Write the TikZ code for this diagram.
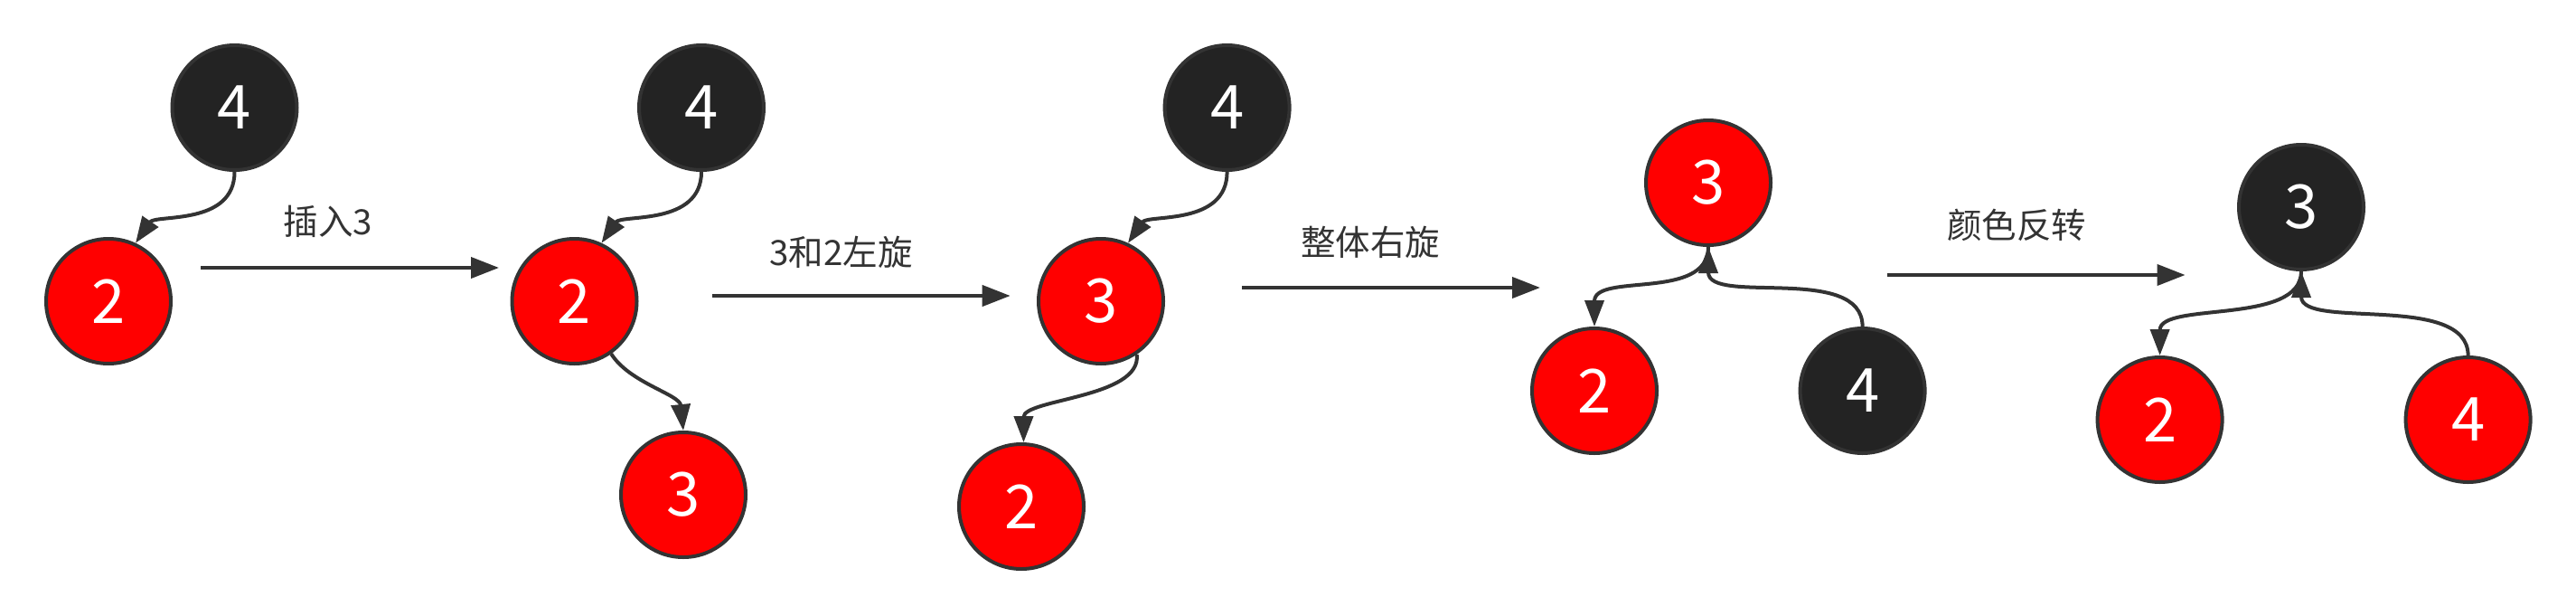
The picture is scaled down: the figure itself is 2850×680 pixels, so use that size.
\documentclass[tikz,border=0pt]{standalone}
\usepackage{fontspec}
\setmainfont{Noto Sans CJK SC}
\usetikzlibrary{arrows.meta}
\definecolor{rbred}{HTML}{FF0000}
\definecolor{rbblack}{HTML}{232323}
\definecolor{linec}{HTML}{333333}
\tikzset{
  rb/.style={circle, minimum size=138pt, inner sep=0pt, draw=linec, line width=4pt, text=white, font=\fontsize{67}{67}\selectfont},
  rnode/.style={rb, fill=rbred},
  bnode/.style={rb, fill=rbblack},
  edge/.style={draw=linec, line width=4pt, -{Triangle[length=29pt,width=21pt]}},
  flow/.style={draw=linec, line width=4pt, -{Triangle[length=31pt,width=23pt]}},
  lab/.style={text=linec, font=\fontsize{38.5}{38.5}\selectfont, inner sep=0pt},
}
\begin{document}
\begin{tikzpicture}[x=1pt,y=-1pt]
\useasboundingbox (0,0) rectangle (2850,680);
% stage 1
\node[bnode] (n4a) at (259.5,119) {4};
\node[rnode] (n2a) at (120,333) {2};
% stage 2
\node[bnode] (n4b) at (776,119) {4};
\node[rnode] (n2b) at (635.5,333) {2};
\node[rnode] (n3b) at (756,547) {3};
% stage 3
\node[bnode] (n4c) at (1357.6,119) {4};
\node[rnode] (n3c) at (1218,333) {3};
\node[rnode] (n2c) at (1130,560) {2};
% stage 4
\node[rnode] (n3d) at (1890,202) {3};
\node[rnode] (n2d) at (1764,432) {2};
\node[bnode] (n4d) at (2060.6,432) {4};
% stage 5
\node[bnode] (n3e) at (2546,229) {3};
\node[rnode] (n2e) at (2389.6,464) {2};
\node[rnode] (n4e) at (2730.6,464) {4};
% edges
\draw[edge] (n4a.south) .. controls +(0,60) and +(22,-32) .. (n2a.65);
\draw[edge] (n4b.south) .. controls +(0,60) and +(22,-32) .. (n2b.65);
\draw[edge] (n2b.-55) .. controls +(20,32) and +(-4,-40) .. (n3b.north);
\draw[edge] (n4c.south) .. controls +(0,60) and +(22,-32) .. (n3c.65);
\draw[edge] (n3c.-56) .. controls +(6,48) and +(0,-48) .. (n2c.88);
\draw[edge] (n3d.south) .. controls +(0,60) and +(0,-60) .. (n2d.north);
\draw[edge] (n4d.north) .. controls +(0,-70) and +(0,65) .. (n3d.south);
\draw[edge] (n3e.south) .. controls +(0,60) and +(0,-60) .. (n2e.north);
\draw[edge] (n4e.north) .. controls +(0,-70) and +(0,65) .. (n3e.south);
% transition arrows
\coordinate (a1s) at (222,296);   \coordinate (a1e) at (552,296);
\coordinate (a2s) at (787.6,327); \coordinate (a2e) at (1117.7,327);
\coordinate (a3s) at (1374,318);  \coordinate (a3e) at (1704,318);
\coordinate (a4s) at (2087.7,304);\coordinate (a4e) at (2417.6,304);
\draw[flow] (a1s) -- (a1e);
\draw[flow] (a2s) -- (a2e);
\draw[flow] (a3s) -- (a3e);
\draw[flow] (a4s) -- (a4e);
\node[lab] (l1) at (363,245) {插入3};
\node[lab] (l2) at (930.5,279) {3和2左旋};
\node[lab] (l3) at (1516,268) {整体右旋};
\node[lab] (l4) at (2231,249) {颜色反转};
\end{tikzpicture}
\end{document}
